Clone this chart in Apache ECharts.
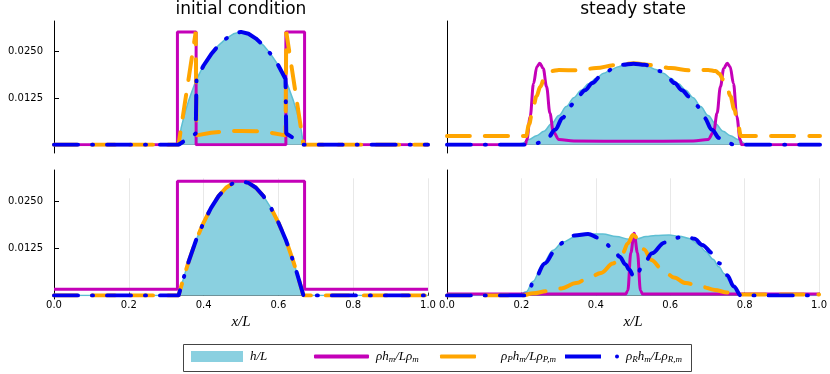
<!DOCTYPE html>
<html>
<head>
<meta charset="utf-8">
<script src="https://cdn.jsdelivr.net/npm/echarts@6/dist/echarts.min.js"></script>
<style>
  html, body { margin: 0; padding: 0; background: #fff; }
  #chart { width: 830px; height: 374px; }
</style>
</head>
<body>
<div id="chart"></div>
<script>
// series names (legend)
const H = 'h/L'
const RHO = 'rho'
const RHOP = 'rhoP'
const RHOR = 'rhoR'

const xTicks = [0, 0.2, 0.4, 0.6, 0.8, 1.0]
const yTicks = [0.0125, 0.025]

// --- initial condition, top row ---
const icTopH_x = [0, 0.333, 0.34, 0.35, 0.36, 0.38, 0.40, 0.42, 0.44, 0.46, 0.48, 0.50, 0.52, 0.54, 0.56, 0.58, 0.60, 0.62, 0.64, 0.65, 0.66, 0.667, 1]
const icTopH_y = [0, 0, 0.0045, 0.0085, 0.0118, 0.0173, 0.0212, 0.0242, 0.0266, 0.0284, 0.0297, 0.0302, 0.0297, 0.0284, 0.0266, 0.0242, 0.0212, 0.0173, 0.0118, 0.0085, 0.0045, 0, 0]
const icTopRho_x = [0, 0.33, 0.33, 0.38, 0.38, 0.62, 0.62, 0.67, 0.67, 1]
const icTopRho_y = [0, 0, 0.0302, 0.0302, 0, 0, 0.0302, 0.0302, 0, 0]
const icTopRhoP_x = [0, 0.333, 0.379, 0.381, 0.42, 0.46, 0.50, 0.54, 0.58, 0.619, 0.621, 0.667, 1]
const icTopRhoP_y = [0, 0, 0.0302, 0.0025, 0.0032, 0.0036, 0.0037, 0.0036, 0.0032, 0.0025, 0.0302, 0, 0]
const icTopRhoR_x = [0, 0.333, 0.379, 0.381, 0.40, 0.42, 0.44, 0.46, 0.48, 0.50, 0.52, 0.54, 0.56, 0.58, 0.60, 0.619, 0.621, 0.667, 1]
const icTopRhoR_y = [0, 0, 0.003, 0.0176, 0.0212, 0.0242, 0.0266, 0.0284, 0.0297, 0.0302, 0.0297, 0.0284, 0.0266, 0.0242, 0.0212, 0.0176, 0.003, 0, 0]

// --- initial condition, bottom row ---
const icBotH_x = [0, 0.333, 0.34, 0.35, 0.36, 0.38, 0.40, 0.42, 0.44, 0.46, 0.48, 0.50, 0.52, 0.54, 0.56, 0.58, 0.60, 0.62, 0.64, 0.65, 0.66, 0.667, 1]
const icBotH_y = [0, 0, 0.0024, 0.0058, 0.0090, 0.0147, 0.0193, 0.0232, 0.0263, 0.0285, 0.0298, 0.0302, 0.0298, 0.0285, 0.0263, 0.0232, 0.0193, 0.0147, 0.0090, 0.0058, 0.0024, 0, 0]
const icBotRho_x = [0, 0.33, 0.33, 0.67, 0.67, 1]
const icBotRho_y = [0.0017, 0.0017, 0.0302, 0.0302, 0.0017, 0.0017]

// --- steady state, top row ---
const ssTopH_x = [0, 0.18, 0.20, 0.22, 0.24, 0.26, 0.28, 0.30, 0.32, 0.34, 0.36, 0.38, 0.40, 0.42, 0.44, 0.46, 0.48, 0.50, 0.52, 0.54, 0.56, 0.58, 0.60, 0.62, 0.64, 0.66, 0.68, 0.70, 0.72, 0.74, 0.76, 0.78, 0.80, 0.82, 1]
const ssTopH_y = [0, 0, 0.0003, 0.0014, 0.0024, 0.0036, 0.0056, 0.0078, 0.0102, 0.0126, 0.0146, 0.0163, 0.0178, 0.0191, 0.0201, 0.0209, 0.0215, 0.0217, 0.0215, 0.0209, 0.0201, 0.0191, 0.0178, 0.0163, 0.0146, 0.0126, 0.0102, 0.0078, 0.0056, 0.0036, 0.0024, 0.0014, 0.0003, 0, 0]
const ssTopRho_x = [0, 0.21, 0.214, 0.223, 0.232, 0.241, 0.249, 0.258, 0.267, 0.276, 0.285, 0.30, 0.34, 0.50, 0.66, 0.70, 0.715, 0.724, 0.733, 0.742, 0.751, 0.759, 0.768, 0.777, 0.786, 0.79, 1]
const ssTopRho_y = [0, 0, 0.0013, 0.0075, 0.0164, 0.0209, 0.0218, 0.0204, 0.0155, 0.0084, 0.0035, 0.0014, 0.001, 0.0009, 0.001, 0.0014, 0.0035, 0.0084, 0.0155, 0.0204, 0.0218, 0.0209, 0.0164, 0.0075, 0.0013, 0, 0]
const ssTopRhoP_x = [0, 0.19, 0.212, 0.22, 0.23, 0.24, 0.25, 0.26, 0.27, 0.28, 0.30, 0.35, 0.40, 0.45, 0.50, 0.55, 0.60, 0.65, 0.70, 0.72, 0.73, 0.74, 0.75, 0.76, 0.77, 0.78, 0.788, 0.81, 1]
const ssTopRhoP_y = [0.0023, 0.0023, 0.0023, 0.0055, 0.0095, 0.013, 0.0155, 0.0175, 0.019, 0.0197, 0.02, 0.0199, 0.0205, 0.0213, 0.0218, 0.0213, 0.0205, 0.0199, 0.02, 0.0197, 0.019, 0.0175, 0.0155, 0.013, 0.0095, 0.0055, 0.0023, 0.0023, 0.0023]
const ssTopRhoR_x = [0, 0.23, 0.25, 0.27, 0.29, 0.31, 0.33, 0.35, 0.37, 0.39, 0.41, 0.43, 0.45, 0.47, 0.50, 0.53, 0.55, 0.57, 0.59, 0.61, 0.63, 0.65, 0.67, 0.69, 0.71, 0.73, 0.75, 0.77, 1]
const ssTopRhoR_y = [0, 0, 0.0006, 0.0018, 0.004, 0.0072, 0.0104, 0.0128, 0.0146, 0.0165, 0.0182, 0.0197, 0.0208, 0.0214, 0.0217, 0.0214, 0.0208, 0.0197, 0.0182, 0.0165, 0.0146, 0.0128, 0.0104, 0.0072, 0.004, 0.0018, 0.0006, 0, 0]

// --- steady state, bottom row ---
const ssBotH_x = [0, 0.19, 0.213, 0.231, 0.258, 0.285, 0.312, 0.347, 0.383, 0.419, 0.455, 0.49, 0.51, 0.535, 0.56, 0.597, 0.625, 0.651, 0.675, 0.696, 0.715, 0.731, 0.745, 0.758, 0.776, 0.79, 0.81, 1]
const ssBotH_y = [0, 0, 0.001, 0.0037, 0.0085, 0.012, 0.0142, 0.0157, 0.0163, 0.0163, 0.0156, 0.0149, 0.015, 0.0156, 0.0159, 0.016, 0.0157, 0.0151, 0.0136, 0.0116, 0.0096, 0.0076, 0.0058, 0.0041, 0.0015, 0.0004, 0, 0]
const ssBotRho_x = [0, 0.48, 0.486, 0.494, 0.503, 0.512, 0.52, 0.526, 1]
const ssBotRho_y = [0.0004, 0.0004, 0.0013, 0.0113, 0.0165, 0.0113, 0.0013, 0.0004, 0.0004]
const ssBotRhoP_x = [0, 0.2, 0.231, 0.27, 0.307, 0.347, 0.38, 0.414, 0.446, 0.472, 0.486, 0.5, 0.514, 0.53, 0.549, 0.58, 0.61, 0.642, 0.682, 0.72, 0.753, 0.79, 1]
const ssBotRhoP_y = [0, 0, 0.0006, 0.0012, 0.0019, 0.0033, 0.0046, 0.006, 0.0085, 0.0112, 0.0138, 0.016, 0.0151, 0.0122, 0.0094, 0.0068, 0.0048, 0.0033, 0.0024, 0.0015, 0.0008, 0.0003, 0.0003]
const ssBotRhoR_x = [0, 0.215, 0.236, 0.263, 0.29, 0.312, 0.343, 0.379, 0.41, 0.446, 0.464, 0.48, 0.49, 0.504, 0.53, 0.551, 0.584, 0.615, 0.646, 0.665, 0.686, 0.713, 0.733, 0.753, 0.771, 0.79, 1]
const ssBotRhoR_y = [0, 0, 0.0045, 0.0085, 0.0118, 0.014, 0.0159, 0.0163, 0.0152, 0.0125, 0.0103, 0.0082, 0.0068, 0.0046, 0.0085, 0.0112, 0.014, 0.0153, 0.0156, 0.015, 0.0134, 0.0113, 0.0085, 0.0054, 0.0024, 0, 0]

const COLORS = { fill: '#8ad0e0', fillLine: '#5ebfd3', rho: '#c400b8', rhoP: '#ffa500', rhoR: '#0000ee' }
const SANS = 'DejaVu Sans'
const SERIF = 'Liberation Serif'

const legendLabels = {
  [H]: '{i|h/L}',
  [RHO]: '{i|ρh}{s|m}{i|/Lρ}{s|m}',
  [RHOP]: '{i|ρ}{s|P}{i|h}{s|m}{i|/Lρ}{s|P,m}',
  [RHOR]: '{i|ρ}{s|R}{i|h}{s|m}{i|/Lρ}{s|R,m}'
}

const zip = (xs, ys) => xs.map((x, i) => [x, ys[i]])

function mkSeries(name, xs, ys, gi, smooth) {
  const s = {
    name, type: 'line', xAxisIndex: gi, yAxisIndex: gi,
    data: zip(xs, ys), showSymbol: false, symbol: 'none', animation: false
  }
  if (smooth) { s.smooth = 0.35; s.smoothMonotone = 'x' }
  if (name === H) {
    s.lineStyle = { color: COLORS.fillLine, width: 1.5 }
    s.itemStyle = { color: COLORS.fill }
    s.areaStyle = { color: COLORS.fill, opacity: 1 }
  } else if (name === RHO) {
    s.lineStyle = { color: COLORS.rho, width: 3 }
    s.itemStyle = { color: COLORS.rho }
  } else if (name === RHOP) {
    // dashed, rounded ends
    s.lineStyle = { color: COLORS.rhoP, width: 4, type: [23, 15], cap: 'round' }
    s.itemStyle = { color: COLORS.rhoP }
  } else {
    // dash-dot
    s.lineStyle = { color: COLORS.rhoR, width: 4, type: [24, 14, 1, 14], cap: 'round' }
    s.itemStyle = { color: COLORS.rhoR }
  }
  return s
}

// panel boxes: 0 TL, 1 TR, 2 BL, 3 BR ; 4..7 outer frame lines
const grids = [
  { left: 54, top: 28.9, width: 374, height: 115.8 },
  { left: 447, top: 28.9, width: 373, height: 115.8 },
  { left: 54, top: 178.3, width: 374, height: 117.3 },
  { left: 447, top: 178.3, width: 373, height: 117.3 },
  { left: 54, top: 21, width: 374, height: 132 },
  { left: 447, top: 21, width: 373, height: 132 },
  { left: 54, top: 170, width: 374, height: 129 },
  { left: 447, top: 170, width: 373, height: 129 }
]

const xAxes = grids.map((g, i) => {
  if (i >= 4) return { gridIndex: i, type: 'value', min: 0, max: 1, show: false }
  const bottom = i >= 2
  return {
    gridIndex: i, type: 'value', min: 0, max: 1, interval: 0.2,
    axisLine: { show: true, onZero: false, lineStyle: { color: '#555', width: 1 } },
    axisTick: { show: bottom, inside: true, length: 3, lineStyle: { color: '#333' } },
    axisLabel: {
      show: bottom, margin: 5, color: '#000', fontFamily: SANS, fontSize: 10,
      formatter: v => v.toFixed(1)
    },
    splitLine: { show: bottom, lineStyle: { color: '#e8e8e8', width: 1 } },
    name: bottom ? 'x/L' : '', nameLocation: 'middle', nameGap: 19,
    nameTextStyle: { fontFamily: SERIF, fontStyle: 'italic', fontSize: 15, color: '#000' }
  }
})

const yAxes = grids.map((g, i) => {
  if (i >= 4) {
    return {
      gridIndex: i, type: 'value', min: 0, max: 1, position: 'right',
      axisLine: { show: true, lineStyle: { color: '#000', width: 1 } },
      axisTick: { show: false }, axisLabel: { show: false }, splitLine: { show: false }
    }
  }
  const leftCol = i % 2 === 0
  return {
    gridIndex: i, type: 'value', min: 0, max: 0.031,
    axisLine: { show: true, onZero: false, lineStyle: { color: '#000', width: 1 } },
    axisTick: { show: leftCol, inside: true, length: 5, customValues: yTicks, lineStyle: { color: '#000' } },
    axisLabel: {
      show: leftCol, customValues: yTicks, margin: 11, color: '#000',
      fontFamily: SANS, fontSize: 10, formatter: v => v.toFixed(4)
    },
    splitLine: { show: false }
  }
})

const series = [
  mkSeries(H, icTopH_x, icTopH_y, 0, false),
  mkSeries(RHO, icTopRho_x, icTopRho_y, 0, false),
  mkSeries(RHOP, icTopRhoP_x, icTopRhoP_y, 0, false),
  mkSeries(RHOR, icTopRhoR_x, icTopRhoR_y, 0, false),

  mkSeries(H, ssTopH_x, ssTopH_y, 1, true),
  mkSeries(RHO, ssTopRho_x, ssTopRho_y, 1, true),
  mkSeries(RHOP, ssTopRhoP_x, ssTopRhoP_y, 1, true),
  mkSeries(RHOR, ssTopRhoR_x, ssTopRhoR_y, 1, true),

  mkSeries(H, icBotH_x, icBotH_y, 2, false),
  mkSeries(RHO, icBotRho_x, icBotRho_y, 2, false),
  mkSeries(RHOP, icBotH_x, icBotH_y, 2, false),
  mkSeries(RHOR, icBotH_x, icBotH_y, 2, false),

  mkSeries(H, ssBotH_x, ssBotH_y, 3, true),
  mkSeries(RHO, ssBotRho_x, ssBotRho_y, 3, true),
  mkSeries(RHOP, ssBotRhoP_x, ssBotRhoP_y, 3, true),
  mkSeries(RHOR, ssBotRhoR_x, ssBotRhoR_y, 3, true)
]

const legendText = {
  color: '#000',
  rich: {
    i: { fontFamily: SERIF, fontStyle: 'italic', fontSize: 13, lineHeight: 16, verticalAlign: 'middle' },
    s: { fontFamily: SERIF, fontStyle: 'italic', fontSize: 9, lineHeight: 9, verticalAlign: 'bottom' }
  }
}

function mkLegend(name, left, w, h, icon, padLeft) {
  return {
    data: [name], left, top: 350, padding: 0, itemGap: 0,
    itemWidth: w, itemHeight: h, icon, selectedMode: false,
    itemStyle: { borderWidth: 0 },
    formatter: n => legendLabels[n],
    textStyle: Object.assign({ padding: [0, 0, 0, padLeft] }, legendText)
  }
}

const chart = echarts.init(document.getElementById('chart'), null, { renderer: 'canvas' })
chart.setOption({
  animation: false,
  backgroundColor: '#fff',
  title: [
    { text: 'initial condition', left: 241, top: 1, textAlign: 'center', padding: 0,
      textStyle: { fontFamily: SANS, fontSize: 17, fontWeight: 'normal', color: '#000' } },
    { text: 'steady state', left: 633, top: 1, textAlign: 'center', padding: 0,
      textStyle: { fontFamily: SANS, fontSize: 17, fontWeight: 'normal', color: '#000' } }
  ],
  grid: grids,
  xAxis: xAxes,
  yAxis: yAxes,
  legend: [
    mkLegend(H, 191, 52, 11, 'rect', 2),
    mkLegend(RHO, 314, 55, 4, 'roundRect', 2),
    mkLegend(RHOP, 440, 36, 4, 'roundRect', 20),
    mkLegend(RHOR, 565, 54, 4, 'path://M0,0 L36,0 L36,4 L0,4 Z M50,2 A2,2 0 1 1 54,2 A2,2 0 1 1 50,2 Z', 2)
  ],
  graphic: [
    { type: 'rect', z: 0, silent: true,
      shape: { x: 183.5, y: 344.5, width: 508, height: 27 },
      style: { fill: 'none', stroke: '#444', lineWidth: 1 } }
  ],
  series
})
</script>
</body>
</html>
